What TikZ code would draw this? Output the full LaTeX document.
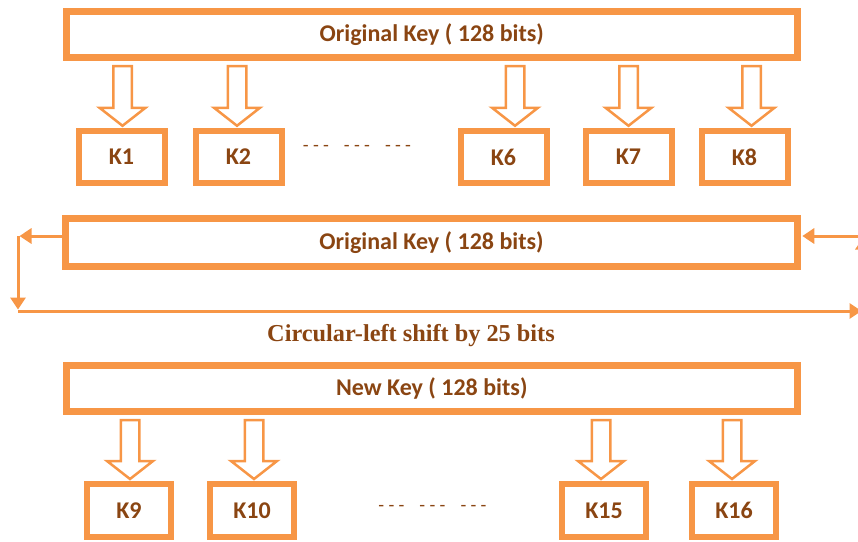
\documentclass[tikz,border=0pt]{standalone}
\usepackage{fontspec}
\setmainfont{Carlito}
\newfontfamily\seriffont{Liberation Serif}
\usetikzlibrary{arrows.meta,calc}
\definecolor{korange}{HTML}{F79646}
\definecolor{ktext}{HTML}{8A4512}
\newcommand{\hollowarrow}[3]{%
  \draw[hollow] let \p1=($(#2.north)+(#3,0)$), \p2=(#1.south) in
   (\x1-9.25pt,\y2-5pt) -- (\x1-9.25pt,\y1+20pt) -- (\x1-23pt,\y1+20pt) -- (\x1,\y1+2pt)
   -- (\x1+23pt,\y1+20pt) -- (\x1+9.25pt,\y1+20pt) -- (\x1+9.25pt,\y2-5pt) -- cycle;}
\begin{document}
\begin{tikzpicture}[x=1pt,y=-1pt,
  bigbox/.style={draw=korange, line width=7pt, minimum width=731.5pt, minimum height=46pt,
    inner sep=0pt, text=ktext, font=\fontsize{24}{26}\selectfont\bfseries},
  kbox/.style={draw=korange, line width=6pt, minimum width=86pt, minimum height=52.5pt,
    inner sep=0pt, text=ktext, font=\fontsize{24}{26}\selectfont\bfseries},
  kboxb/.style={kbox, minimum width=84pt, minimum height=53pt},
  hollow/.style={draw=korange, line width=2.5pt, line join=miter},
  loopline/.style={draw=korange, line width=3pt, -{Triangle[length=12pt,width=15pt]}, shorten >=1.5pt},
  dots/.style={text=ktext, inner sep=0pt, font=\fontsize{19}{20}\selectfont},
  note/.style={text=ktext, inner sep=0pt, font=\fontsize{24.3}{26}\selectfont\seriffont\bfseries}]
\useasboundingbox (0,0) rectangle (858,541);
% top section
\node[bigbox] (ok1) at (431.75,34.5) {\raisebox{-1.5pt}{Original Key ( 128 bits)}};
\node[kbox] (k1) at (121.5,157) {K1};
\node[kbox] (k2) at (238.5,157) {K2};
\node[kbox] (k6) at (503.5,157) {K6};
\node[kbox] (k7) at (628.5,157) {K7};
\node[kbox] (k8) at (744.5,157) {K8};
\node[dots] (d1) at (357,148) {- - -\hspace{15pt}- - -\hspace{15pt}- - -};
\hollowarrow{ok1}{k1}{1}
\hollowarrow{ok1}{k2}{-1.5}
\hollowarrow{ok1}{k6}{11.5}
\hollowarrow{ok1}{k7}{0}
\hollowarrow{ok1}{k8}{7}
% middle section
\node[bigbox, minimum height=48pt] (ok2) at (431.5,242.5) {\raisebox{-1.5pt}{Original Key ( 128 bits)}};
\coordinate (l1) at (18,236);
\coordinate (l2) at (18,311);
\coordinate (r2) at (863,311);
\coordinate (r1) at (863,236);
\draw[loopline] ($(ok2.west)+(0,-6.5)$) -- (l1);
\draw[loopline] (l1) -- (l2);
\draw[loopline] (l2) -- (r2);
\draw[loopline] (r2) -- (r1);
\draw[loopline] (r1) -- ($(ok2.east)+(0,-6.5)$);
\node[note] (shift) at (411,336) {Circular-left shift by 25 bits};
% bottom section
\node[bigbox] (nk) at (431.75,388.5) {\raisebox{-1.5pt}{New Key ( 128 bits)}};
\node[kboxb] (k9) at (129,510.5) {K9};
\node[kboxb] (k10) at (252,510.5) {K10};
\node[kboxb] (k15) at (604,510.5) {K15};
\node[kboxb] (k16) at (734,510.5) {K16};
\node[dots] (d2) at (432.5,508) {- - -\hspace{15pt}- - -\hspace{15pt}- - -};
\hollowarrow{nk}{k9}{1}
\hollowarrow{nk}{k10}{2}
\hollowarrow{nk}{k15}{-3}
\hollowarrow{nk}{k16}{-2}
\end{tikzpicture}
\end{document}
